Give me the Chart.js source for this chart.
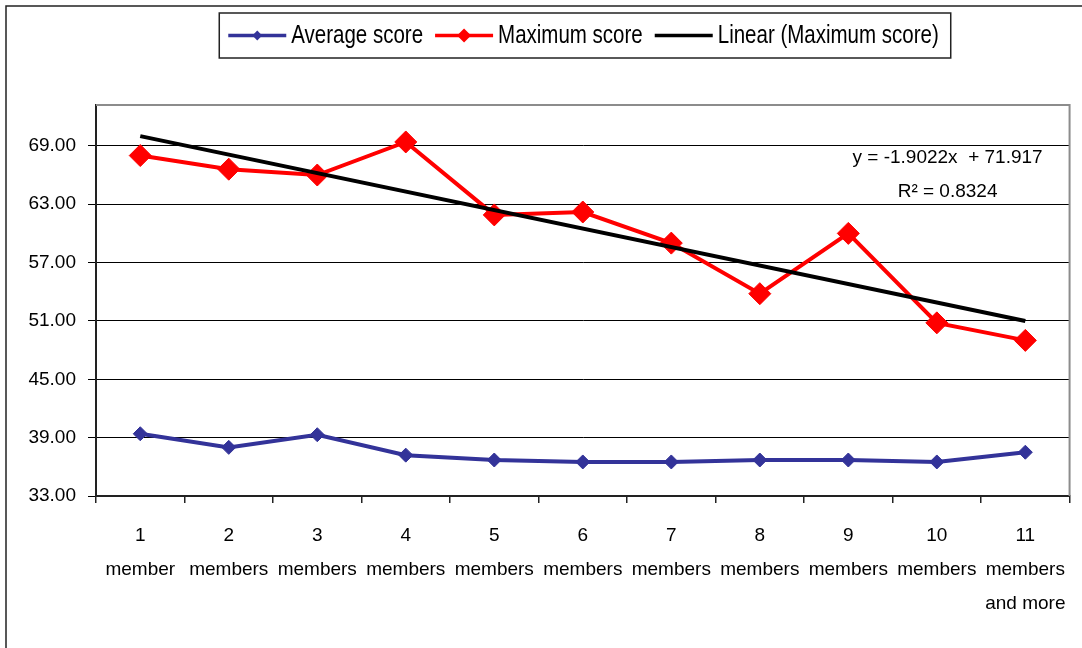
<!DOCTYPE html>
<html>
<head>
<meta charset="utf-8">
<script src="https://cdn.jsdelivr.net/npm/chart.js@4.4.7/dist/chart.umd.min.js"></script>
<style>
  html, body { margin: 0; padding: 0; background: #fff; }
  #wrap { width: 1082px; height: 648px; }
</style>
</head>
<body>
<div id="wrap"><canvas id="chart" width="1082" height="648"></canvas></div>
<script>
// values
const categories = [
  ['1', 'member'], ['2', 'members'], ['3', 'members'], ['4', 'members'],
  ['5', 'members'], ['6', 'members'], ['7', 'members'], ['8', 'members'],
  ['9', 'members'], ['10', 'members'], ['11', 'members', 'and more']
];
const avgScore = [39.4, 38.0, 39.3, 37.2, 36.7, 36.5, 36.5, 36.7, 36.7, 36.5, 37.5];
const maxScore = [68.0, 66.6, 66.0, 69.4, 61.9, 62.2, 59.0, 53.8, 60.0, 50.8, 49.0];
// excel trendline: only its two end points are drawn
const trendLine = [70.0, null, null, null, null, null, null, null, null, null, 51.0];
const yTicks = [33, 39, 45, 51, 57, 63, 69];
const yMin = 33;
const yMax = 73.2;
const trendEquation = 'y = -1.9022x  + 71.917';
const trendR2 = 'R\u00B2 = 0.8324';

const FONT = "'Liberation Sans', Arial, sans-serif";

// white page + the outer frame of the excel chart object
const frame = {
  id: 'frame',
  beforeDraw(chart) {
    const ctx = chart.ctx;
    ctx.save();
    ctx.fillStyle = '#fff';
    ctx.fillRect(0, 0, chart.width, chart.height);
    ctx.strokeStyle = '#222';
    ctx.lineWidth = 1.5;
    ctx.beginPath();
    ctx.moveTo(6, chart.height);
    ctx.lineTo(6, 6);
    ctx.lineTo(chart.width, 6);
    ctx.stroke();
    ctx.restore();
  },
  beforeDatasetsDraw(chart) {
    const { ctx, chartArea: a } = chart;
    ctx.save();
    ctx.strokeStyle = '#8c8c8c';
    ctx.lineWidth = 2;
    ctx.beginPath();
    ctx.moveTo(a.left, a.top);
    ctx.lineTo(a.right, a.top);
    ctx.lineTo(a.right, a.bottom);
    ctx.stroke();
    ctx.restore();
  }
};

// legend in a box, line + diamond samples like excel
const boxedLegend = {
  id: 'boxedLegend',
  afterDraw(chart) {
    const ctx = chart.ctx;
    const items = chart.data.datasets.map(ds => ({
      label: ds.label, color: ds.borderColor, marker: ds.pointRadius ? Math.min(ds.pointRadius * 0.7, 7) : 0
    }));
    const fontSize = 25, squeeze = 0.82;
    const lineLen = 58, gapText = 5, gapItem = 12, padL = 9, padR = 12;
    ctx.save();
    ctx.font = fontSize + 'px ' + FONT;
    const widths = items.map(it => ctx.measureText(it.label).width * squeeze);
    let total = padL + padR + gapItem * (items.length - 1);
    items.forEach((it, i) => { total += lineLen + gapText + widths[i]; });
    const cx = 585, top = 13, h = 45, midY = top + h / 2;
    let x = cx - total / 2;
    ctx.strokeStyle = '#222';
    ctx.lineWidth = 1.5;
    ctx.strokeRect(x, top, total, h);
    x += padL;
    items.forEach((it, i) => {
      ctx.strokeStyle = it.color;
      ctx.lineWidth = 3.5;
      ctx.beginPath();
      ctx.moveTo(x, midY);
      ctx.lineTo(x + lineLen, midY);
      ctx.stroke();
      if (it.marker) {
        const mx = x + lineLen / 2, r = it.marker;
        ctx.fillStyle = it.color;
        ctx.beginPath();
        ctx.moveTo(mx, midY - r);
        ctx.lineTo(mx + r, midY);
        ctx.lineTo(mx, midY + r);
        ctx.lineTo(mx - r, midY);
        ctx.closePath();
        ctx.fill();
      }
      ctx.save();
      ctx.translate(x + lineLen + gapText, midY + 1);
      ctx.scale(squeeze, 1);
      ctx.fillStyle = '#000';
      ctx.textBaseline = 'middle';
      ctx.textAlign = 'left';
      ctx.fillText(it.label, 0, 0);
      ctx.restore();
      x += lineLen + gapText + widths[i] + gapItem;
    });
    ctx.restore();
  }
};

// trendline equation label
const equation = {
  id: 'equation',
  afterDatasetsDraw(chart) {
    const { ctx, chartArea: a } = chart;
    ctx.save();
    ctx.font = '19px ' + FONT;
    ctx.fillStyle = '#000';
    ctx.textAlign = 'center';
    ctx.textBaseline = 'middle';
    ctx.fillText(trendEquation, a.right - 122, a.top + 53);
    ctx.fillText(trendR2, a.right - 122, a.top + 87);
    ctx.restore();
  }
};

new Chart(document.getElementById('chart'), {
  type: 'line',
  data: {
    labels: categories,
    datasets: [
      {
        label: 'Average score',
        data: avgScore,
        borderColor: '#333399',
        backgroundColor: '#333399',
        borderWidth: 4,
        pointStyle: 'rectRot',
        pointRadius: 7,
        pointBorderWidth: 1,
        tension: 0,
        order: 2
      },
      {
        label: 'Maximum score',
        data: maxScore,
        borderColor: '#ff0000',
        backgroundColor: '#ff0000',
        borderWidth: 4,
        pointStyle: 'rectRot',
        pointRadius: 11,
        pointBorderWidth: 1,
        tension: 0,
        order: 1
      },
      {
        label: 'Linear (Maximum score)',
        data: trendLine,
        borderColor: '#000000',
        backgroundColor: '#000000',
        borderWidth: 4,
        pointRadius: 0,
        spanGaps: true,
        order: 0
      }
    ]
  },
  options: {
    responsive: false,
    animation: false,
    devicePixelRatio: 1,
    layout: { padding: { top: 105, right: 5, bottom: 0, left: 0 } },
    plugins: {
      legend: { display: false },
      tooltip: { enabled: false }
    },
    scales: {
      x: {
        offset: true,
        grid: { offset: true, drawOnChartArea: false, tickLength: 7, color: '#222', lineWidth: 1.5 },
        border: { color: '#222', width: 2 },
        ticks: {
          color: '#000',
          font: { family: FONT, size: 19, lineHeight: '34px' },
          padding: 16,
          maxRotation: 0,
          autoSkip: false
        },
        afterFit(s) { s.height = 152; }
      },
      y: {
        min: yMin,
        max: yMax,
        afterBuildTicks(s) { s.ticks = yTicks.map(v => ({ value: v })); },
        grid: { color: '#000', lineWidth: 1, tickLength: 8 },
        border: { color: '#222', width: 2 },
        ticks: {
          color: '#000',
          font: { family: FONT, size: 19 },
          padding: 12,
          callback: v => v.toFixed(2)
        },
        afterFit(s) { s.width = 96; }
      }
    }
  },
  plugins: [frame, boxedLegend, equation]
});
</script>
</body>
</html>
